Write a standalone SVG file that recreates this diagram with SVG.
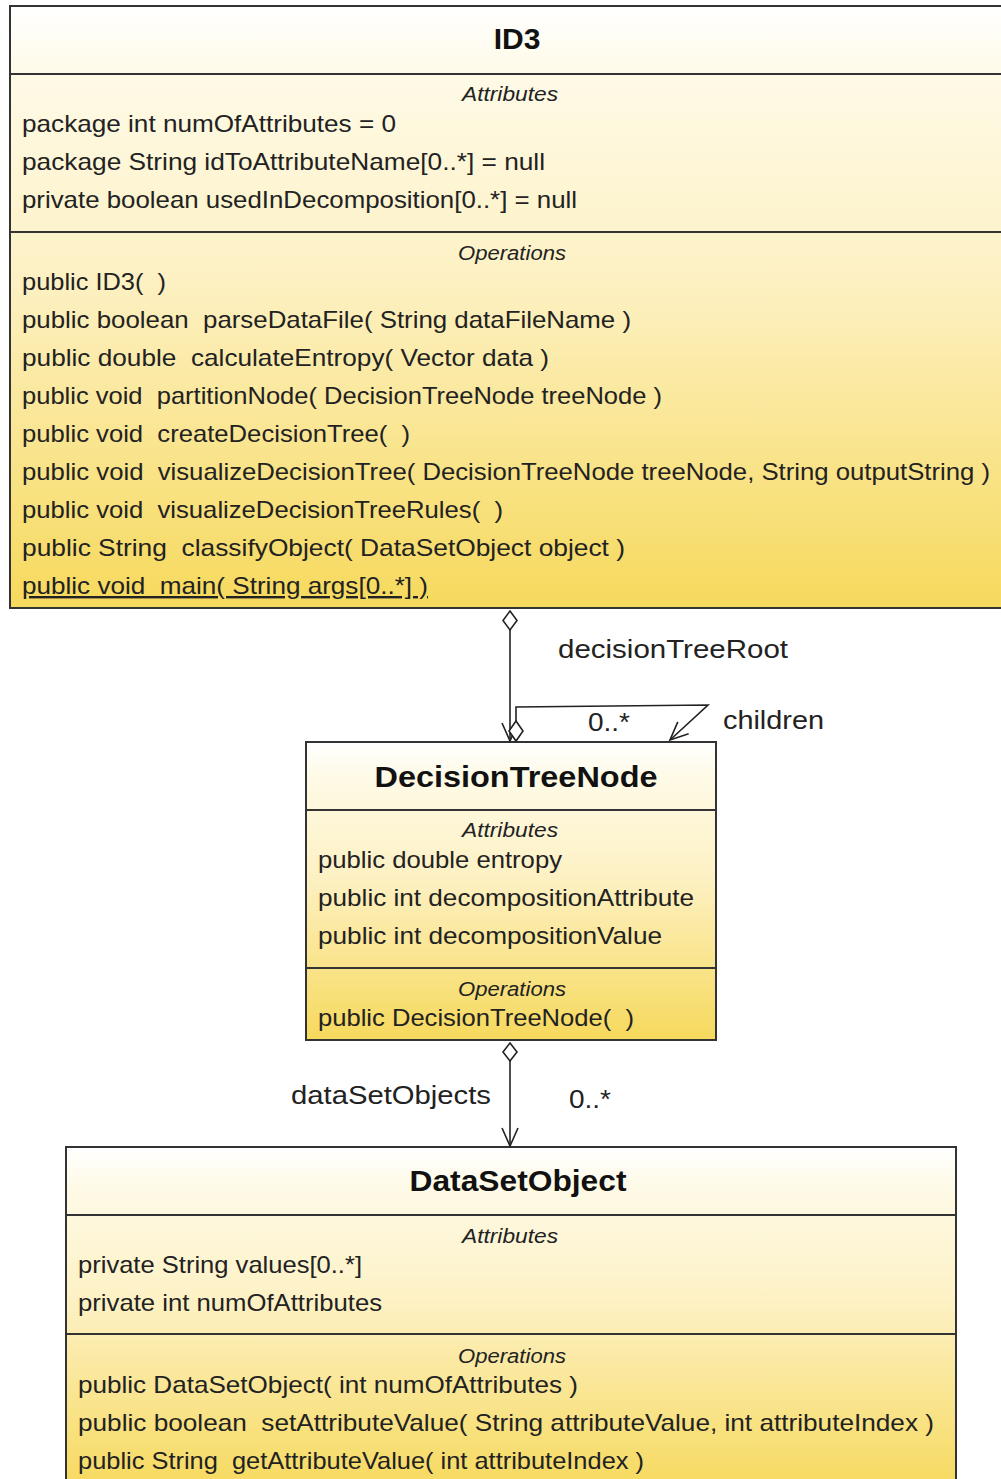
<svg xmlns="http://www.w3.org/2000/svg" width="1001" height="1479" viewBox="0 0 1001 1479">
<defs>
<linearGradient id="g" x1="0" y1="0" x2="0" y2="1">
<stop offset="0" stop-color="#ffffff"/>
<stop offset="0.12" stop-color="#fefae6"/>
<stop offset="0.45" stop-color="#fdf1c4"/>
<stop offset="1" stop-color="#f6d95c"/>
</linearGradient>
<marker id="open" markerWidth="24" markerHeight="24" refX="20" refY="12" orient="auto" markerUnits="userSpaceOnUse">
<path d="M2,4 L20,12 L2,20" fill="none" stroke="#222" stroke-width="1.6"/>
</marker>
</defs>
<style>
.box{stroke:#333;stroke-width:2;fill:url(#g)}
.sep{stroke:#333;stroke-width:2}
.t{font-family:"Liberation Sans",Arial,sans-serif;font-size:24px;fill:#222;white-space:pre}
.sec{font-family:"Liberation Sans",Arial,sans-serif;font-size:20px;font-style:italic;fill:#222;text-anchor:middle}
.title{font-family:"Liberation Sans",Arial,sans-serif;font-weight:bold;fill:#111;text-anchor:middle}
.lbl{font-family:"Liberation Sans",Arial,sans-serif;font-size:26px;fill:#222}
.ln{stroke:#222;stroke-width:1.6;fill:none}
.dia{stroke:#222;stroke-width:1.6;fill:#fff}
</style>

<g id="ID3">
<rect class="box" x="10" y="6" width="1000" height="602"/>
<line class="sep" x1="10" y1="74" x2="1001" y2="74"/>
<line class="sep" x1="10" y1="232" x2="1001" y2="232"/>
<text class="title" x="517" y="49" font-size="30">ID3</text>
<text class="sec" x="510" y="101" textLength="96" lengthAdjust="spacingAndGlyphs">Attributes</text>
<text class="t" x="22" y="132" textLength="374" lengthAdjust="spacingAndGlyphs">package int numOfAttributes = 0</text>
<text class="t" x="22" y="170" textLength="523" lengthAdjust="spacingAndGlyphs">package String idToAttributeName[0..*] = null</text>
<text class="t" x="22" y="208" textLength="555" lengthAdjust="spacingAndGlyphs">private boolean usedInDecomposition[0..*] = null</text>
<text class="sec" x="512" y="260" textLength="108" lengthAdjust="spacingAndGlyphs">Operations</text>
<text class="t" x="22" y="290" textLength="144" lengthAdjust="spacingAndGlyphs">public ID3(  )</text>
<text class="t" x="22" y="328" textLength="609" lengthAdjust="spacingAndGlyphs">public boolean  parseDataFile( String dataFileName )</text>
<text class="t" x="22" y="366" textLength="527" lengthAdjust="spacingAndGlyphs">public double  calculateEntropy( Vector data )</text>
<text class="t" x="22" y="404" textLength="640" lengthAdjust="spacingAndGlyphs">public void  partitionNode( DecisionTreeNode treeNode )</text>
<text class="t" x="22" y="442" textLength="388" lengthAdjust="spacingAndGlyphs">public void  createDecisionTree(  )</text>
<text class="t" x="22" y="480" textLength="968" lengthAdjust="spacingAndGlyphs">public void  visualizeDecisionTree( DecisionTreeNode treeNode, String outputString )</text>
<text class="t" x="22" y="518" textLength="481" lengthAdjust="spacingAndGlyphs">public void  visualizeDecisionTreeRules(  )</text>
<text class="t" x="22" y="556" textLength="603" lengthAdjust="spacingAndGlyphs">public String  classifyObject( DataSetObject object )</text>
<text class="t" x="22" y="594" textLength="406" lengthAdjust="spacingAndGlyphs" text-decoration="underline">public void  main( String args[0..*] )</text>
</g>

<g id="DecisionTreeNode">
<rect class="box" x="306" y="742" width="410" height="298"/>
<line class="sep" x1="306" y1="810" x2="716" y2="810"/>
<line class="sep" x1="306" y1="968" x2="716" y2="968"/>
<text class="title" x="516" y="787" font-size="29" textLength="283" lengthAdjust="spacingAndGlyphs">DecisionTreeNode</text>
<text class="sec" x="510" y="837" textLength="96" lengthAdjust="spacingAndGlyphs">Attributes</text>
<text class="t" x="318" y="868" textLength="244" lengthAdjust="spacingAndGlyphs">public double entropy</text>
<text class="t" x="318" y="906" textLength="376" lengthAdjust="spacingAndGlyphs">public int decompositionAttribute</text>
<text class="t" x="318" y="944" textLength="344" lengthAdjust="spacingAndGlyphs">public int decompositionValue</text>
<text class="sec" x="512" y="996" textLength="108" lengthAdjust="spacingAndGlyphs">Operations</text>
<text class="t" x="318" y="1026" textLength="316" lengthAdjust="spacingAndGlyphs">public DecisionTreeNode(  )</text>
</g>

<g id="DataSetObject">
<rect class="box" x="66" y="1147" width="890" height="345"/>
<line class="sep" x1="66" y1="1215" x2="956" y2="1215"/>
<line class="sep" x1="66" y1="1334" x2="956" y2="1334"/>
<text class="title" x="518" y="1191" font-size="29" textLength="217" lengthAdjust="spacingAndGlyphs">DataSetObject</text>
<text class="sec" x="510" y="1243" textLength="96" lengthAdjust="spacingAndGlyphs">Attributes</text>
<text class="t" x="78" y="1273" textLength="284" lengthAdjust="spacingAndGlyphs">private String values[0..*]</text>
<text class="t" x="78" y="1311" textLength="304" lengthAdjust="spacingAndGlyphs">private int numOfAttributes</text>
<text class="sec" x="512" y="1363" textLength="108" lengthAdjust="spacingAndGlyphs">Operations</text>
<text class="t" x="78" y="1393" textLength="500" lengthAdjust="spacingAndGlyphs">public DataSetObject( int numOfAttributes )</text>
<text class="t" x="78" y="1431" textLength="856" lengthAdjust="spacingAndGlyphs">public boolean  setAttributeValue( String attributeValue, int attributeIndex )</text>
<text class="t" x="78" y="1469" textLength="566" lengthAdjust="spacingAndGlyphs">public String  getAttributeValue( int attributeIndex )</text>
</g>

<g id="connectors">
<line class="ln" x1="510" y1="630" x2="510" y2="741" marker-end="url(#open)"/>
<path class="dia" d="M510,611 L517,620.5 L510,630 L503,620.5 Z"/>
<text class="lbl" x="558" y="658" textLength="230" lengthAdjust="spacingAndGlyphs">decisionTreeRoot</text>

<path class="ln" d="M516,721 L516,707 L708,705 L670,740" marker-end="url(#open)"/>
<path class="dia" d="M516,721 L523,731 L516,741 L509,731 Z"/>
<text class="lbl" x="588" y="731" textLength="42" lengthAdjust="spacingAndGlyphs">0..*</text>
<text class="lbl" x="723" y="729" textLength="101" lengthAdjust="spacingAndGlyphs">children</text>

<line class="ln" x1="510" y1="1061" x2="510" y2="1146" marker-end="url(#open)"/>
<path class="dia" d="M510,1043 L517,1052 L510,1061 L503,1052 Z"/>
<text class="lbl" x="291" y="1104" textLength="200" lengthAdjust="spacingAndGlyphs">dataSetObjects</text>
<text class="lbl" x="569" y="1108" textLength="42" lengthAdjust="spacingAndGlyphs">0..*</text>
</g>
</svg>
